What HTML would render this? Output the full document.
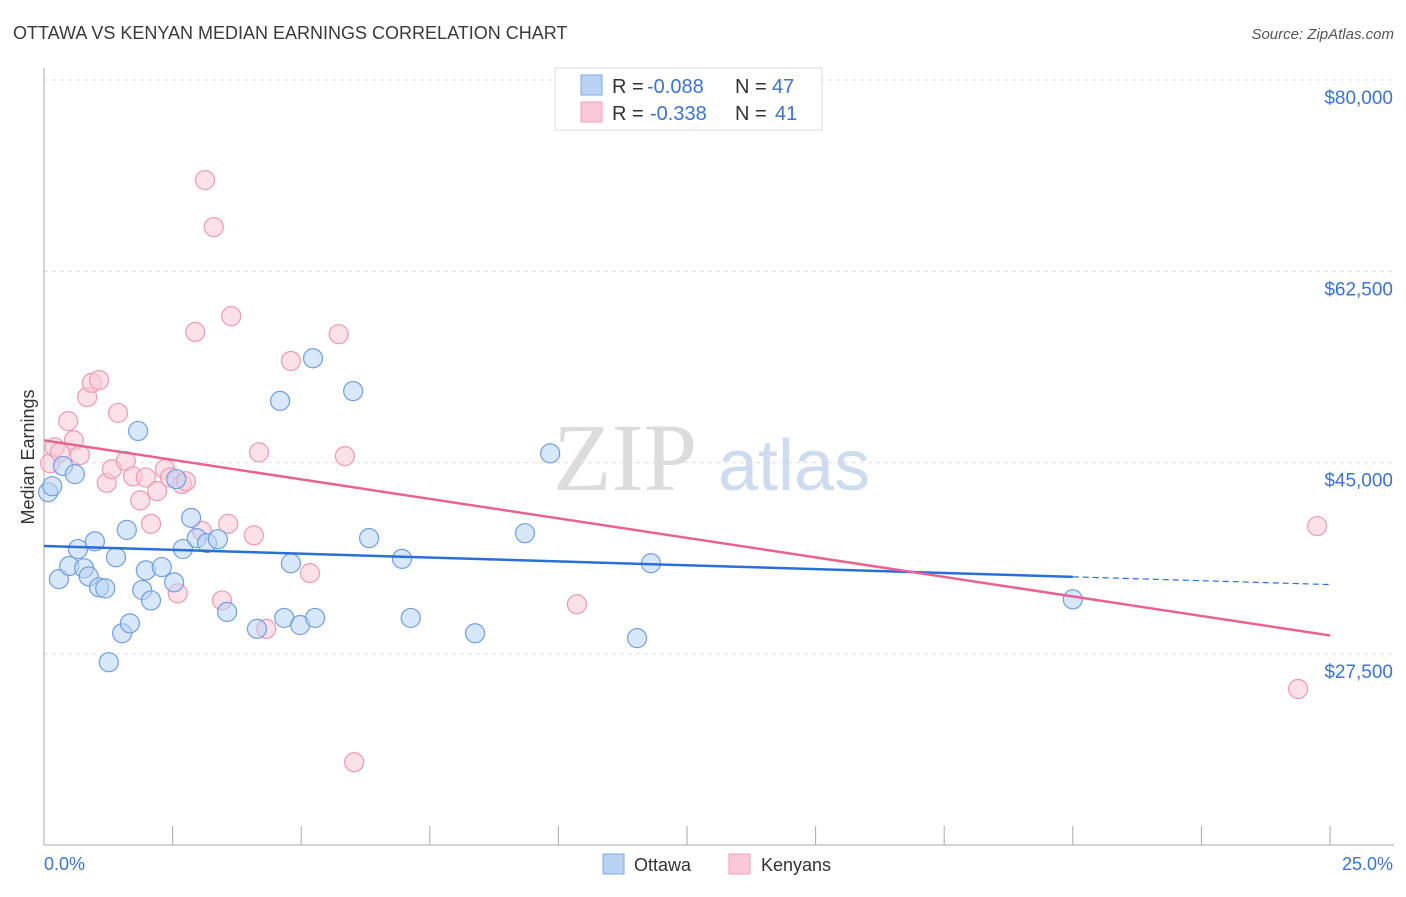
<!DOCTYPE html>
<html><head><meta charset="utf-8">
<style>
html,body{margin:0;padding:0;background:#fff;}
body{width:1406px;height:892px;overflow:hidden;font-family:"Liberation Sans",sans-serif;}
</style></head>
<body>
<svg id="chart" width="1406" height="892" xmlns="http://www.w3.org/2000/svg" font-family="Liberation Sans, sans-serif">
<text x="13" y="39" font-size="18" fill="#3a3a3a">OTTAWA VS KENYAN MEDIAN EARNINGS CORRELATION CHART</text>
<text x="1394" y="39" font-size="15" fill="#555" text-anchor="end" font-style="italic">Source: ZipAtlas.com</text>
<g>
<text x="553" y="490" font-size="96" font-family="Liberation Serif, serif" fill="#dcdcdc">ZIP</text>
<text x="718" y="490" font-size="72" fill="#cfdcf0">atlas</text>
</g>
<g id="grid"></g>
<g id="axes"></g>
<g id="points"></g>
<g id="trends"></g>
<text transform="translate(34,457) rotate(-90)" font-size="18" fill="#333" text-anchor="middle">Median Earnings</text>
<text x="44" y="870" font-size="18" fill="#3b73d1">0.0%</text>
<text x="1393" y="870" font-size="18" fill="#3b73d1" text-anchor="end">25.0%</text>
<g>
<rect x="555" y="68" width="267" height="62" fill="#fff" stroke="#ddd"/>
<rect x="581" y="75" width="21" height="20" fill="#bad3f5" stroke="#7fa9e6"/>
<text x="612" y="93" font-size="20" fill="#333">R = </text>
<text x="647" y="93" font-size="20" fill="#3b73d1">-0.088</text>
<text x="735" y="93" font-size="20" fill="#333">N = </text>
<text x="772" y="93" font-size="20" fill="#3b73d1">47</text>
<rect x="581" y="102" width="21" height="20" fill="#fbc8d7" stroke="#f0a0b8"/>
<text x="612" y="120" font-size="20" fill="#333">R = </text>
<text x="650" y="120" font-size="20" fill="#3b73d1">-0.338</text>
<text x="735" y="120" font-size="20" fill="#333">N = </text>
<text x="775" y="120" font-size="20" fill="#3b73d1">41</text>
</g>
<g>
<rect x="603" y="854" width="21" height="20" fill="#bad3f5" stroke="#7fa9e6"/>
<text x="634" y="871" font-size="18" fill="#333">Ottawa</text>
<rect x="729" y="854" width="21" height="20" fill="#fbc8d7" stroke="#f0a0b8"/>
<text x="761" y="871" font-size="18" fill="#333">Kenyans</text>
</g>
</svg>
<script>
const ottawaX=[0.08,0.16,0.37,0.60,0.29,0.49,0.66,0.78,0.87,0.99,1.07,1.19,1.26,1.40,1.52,1.61,1.67,1.83,1.91,1.98,2.08,2.29,2.53,2.57,2.70,2.86,2.97,3.17,3.38,3.56,4.14,4.59,4.67,4.80,4.98,5.23,5.27,6.01,6.32,6.96,7.13,8.38,9.35,9.84,11.53,11.80,20.0];
const ottawaY=[42.3,42.85,44.7,43.95,34.35,35.55,37.1,35.35,34.6,37.8,33.6,33.5,26.75,36.35,29.4,38.85,30.3,47.9,33.35,35.15,32.4,35.45,34.05,43.5,37.1,39.95,38.1,37.65,38.0,31.35,29.8,50.65,30.8,35.8,30.15,54.55,30.8,51.55,38.1,36.2,30.8,29.4,38.55,45.85,28.95,35.8,32.5];
const kenyanX=[0.12,0.21,0.31,0.47,0.58,0.70,0.84,0.93,1.07,1.22,1.32,1.44,1.59,1.73,1.87,1.98,2.08,2.20,2.35,2.45,2.60,2.68,2.76,2.94,3.07,3.13,3.30,3.46,3.58,3.64,4.08,4.18,4.32,4.80,5.17,5.73,5.85,6.03,10.36,24.38,24.75];
const kenyanY=[44.95,46.4,45.95,48.8,47.05,45.7,51.0,52.3,52.55,43.15,44.4,49.55,45.15,43.75,41.55,43.65,39.4,42.4,44.4,43.65,33.05,43.05,43.3,56.95,38.75,70.85,66.55,32.4,39.4,58.4,38.35,45.95,29.8,54.3,34.9,56.75,45.6,17.6,32.05,24.3,39.2];
const yTicks=[27.5,45,62.5,80];
const yTickLabels=["$27,500","$45,000","$62,500","$80,000"];
const xTicks=[0,2.5,5,7.5,10,12.5,15,17.5,20,22.5,25];

const NS="http://www.w3.org/2000/svg";
const X0=44,X1=1330,XMIN=0,XMAX=25;
const YTOP=80,YBOT=654,VTOP=80,VBOT=27.5;
function sx(v){return X0+(v-XMIN)/(XMAX-XMIN)*(X1-X0);}
function sy(v){return YTOP+(VTOP-v)/(VTOP-VBOT)*(YBOT-YTOP);}
function mk(tag,attrs,parent){const e=document.createElementNS(NS,tag);for(const k in attrs)e.setAttribute(k,attrs[k]);parent.appendChild(e);return e;}

const grid=document.getElementById('grid');
yTicks.forEach((t,i)=>{
  const l=mk('line',{x1:44,x2:1394,y1:sy(t),y2:sy(t),stroke:'#ddd','stroke-dasharray':'4,4'},grid);
  
  
  const tx=mk('text',{x:1393,y:sy(t)+24,'font-size':19,fill:'#3b73d1','text-anchor':'end'},grid);
  tx.textContent=yTickLabels[i];
  
  
});
const axes=document.getElementById('axes');
const ya=mk('line',{x1:44,x2:44,y1:68,y2:845,stroke:'#aaa'},axes);


const xa=mk('line',{x1:44,x2:1394,y1:845,y2:845,stroke:'#aaa'},axes);


xTicks.forEach(t=>{
  const tk=mk('line',{x1:sx(t),x2:sx(t),y1:826,y2:845,stroke:'#aaa'},axes);
  
  
});

const pts=document.getElementById('points');
function drawPts(xs,ys,fill,stroke,name){
  xs.forEach((x,i)=>{
    const c=mk('circle',{cx:sx(x),cy:sy(ys[i]),r:9.5,fill:fill,'fill-opacity':0.55,stroke:stroke,'stroke-width':1.2},pts);
    
    
  });
}
drawPts(kenyanX,kenyanY,'#fbc8d7','#ee9ab4','kenyan-point');
drawPts(ottawaX,ottawaY,'#bad3f5','#6f9fe3','ottawa-point');

function fit(xs,ys){const n=xs.length;let mx=0,my=0;for(let i=0;i<n;i++){mx+=xs[i];my+=ys[i];}mx/=n;my/=n;let sxy=0,sxx=0;for(let i=0;i<n;i++){sxy+=(xs[i]-mx)*(ys[i]-my);sxx+=(xs[i]-mx)**2;}const b=sxy/sxx;return [my-b*mx,b];}
const tr=document.getElementById('trends');
const [ao,bo]=fit(ottawaX,ottawaY);
const xmaxO=Math.max(...ottawaX);
const l1=mk('line',{x1:sx(0),y1:sy(ao),x2:sx(xmaxO),y2:sy(ao+bo*xmaxO),stroke:'#2a6fd6','stroke-width':2.5},tr);


const l1d=mk('line',{x1:sx(xmaxO),y1:sy(ao+bo*xmaxO),x2:sx(25),y2:sy(ao+bo*25),stroke:'#2a6fd6','stroke-width':1.2,'stroke-dasharray':'6,4'},tr);


const [ak,bk]=fit(kenyanX,kenyanY);
const l2=mk('line',{x1:sx(0),y1:sy(ak),x2:sx(25),y2:sy(ak+bk*25),stroke:'#e8638f','stroke-width':2.5},tr);


</script>
</body></html>
